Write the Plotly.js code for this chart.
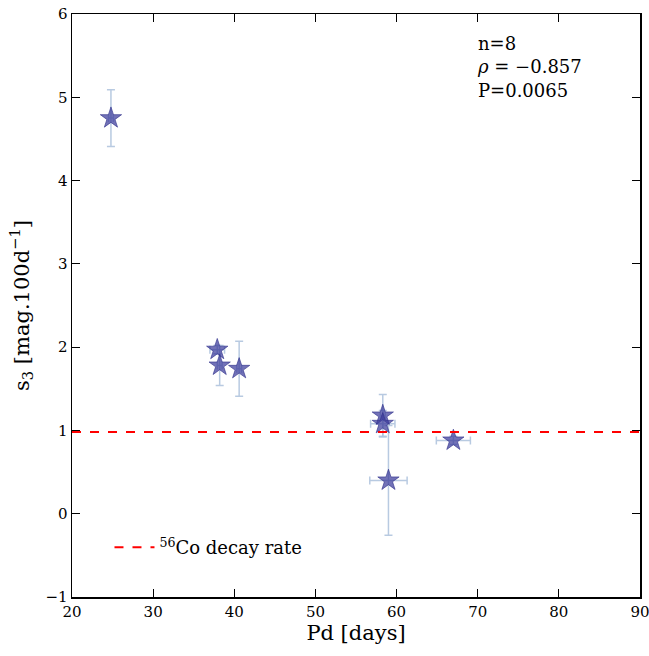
<!DOCTYPE html>
<html>
<head>
<meta charset="utf-8">
<script src="https://cdn.plot.ly/plotly-3.0.1.min.js"></script>
<style>html,body{margin:0;padding:0;background:#fff;}#chart{width:649px;height:656px;}</style>
</head>
<body>
<div id="chart"></div>
<script>
// Data
const pd = [24.8, 37.9, 38.2, 40.6, 58.3, 58.3, 59.0, 67.0];
const s3 = [4.75, 1.97, 1.78, 1.74, 1.18, 1.08, 0.40, 0.88];
const s3Err = [0.34, 0.05, 0.24, 0.33, 0.25, 0.16, 0.66, 0.05];
const pdErr = [0.3, 0.9, 0.3, 0.3, 0.3, 1.5, 2.3, 2.1];
const coDecayRate = 0.98;
const xRange = [20, 90];
const yRange = [-1, 6];
const statsText = ["n=8", "<i>ρ</i> = −0.857", "P=0.0065"];
const legendLabel = "<sup>56</sup>Co decay rate";

const serif = "DejaVu Serif, serif";

const traces = [
  {
    x: pd, y: s3, type: "scatter", mode: "markers", showlegend: false,
    marker: {symbol: "star", size: 16, color: "rgba(60,60,155,0.72)",
             line: {color: "rgba(50,50,140,0.8)", width: 0.8}},
    error_y: {type: "data", array: s3Err, visible: true, color: "rgba(176,196,222,0.9)", thickness: 1.5, width: 4},
    error_x: {type: "data", array: pdErr, visible: true, color: "rgba(176,196,222,0.9)", thickness: 1.5, width: 4}
  },
  {
    x: xRange, y: [coDecayRate, coDecayRate], type: "scatter", mode: "lines",
    name: legendLabel,
    line: {color: "red", width: 2, dash: "dash"}
  }
];

const axisCommon = {
  showgrid: false, zeroline: false, showline: true, linecolor: "black", linewidth: 1.5,
  mirror: "ticks", ticks: "inside", ticklen: 8, tickwidth: 1.2, tickcolor: "black",
  ticklabeloverflow: "allow",
  tickfont: {family: serif, size: 15, color: "black"}
};

const layout = {
  width: 649, height: 656,
  margin: {l: 72, r: 9, t: 14, b: 59},
  paper_bgcolor: "white", plot_bgcolor: "white",
  font: {family: serif, color: "black"},
  xaxis: Object.assign({}, axisCommon, {
    range: xRange, dtick: 10, tick0: 20,
    title: {text: "Pd [days]", font: {family: serif, size: 21, color: "black"}, standoff: 6}
  }),
  yaxis: Object.assign({}, axisCommon, {
    range: yRange, dtick: 1, tick0: 0,
    title: {text: "s<sub>3</sub> [mag.100d<sup>−1</sup>]", font: {family: serif, size: 21, color: "black"}, standoff: 10}
  }),
  legend: {x: 0.066, y: 0.085, xanchor: "left", yanchor: "middle", bgcolor: "rgba(0,0,0,0)",
           itemwidth: 40, font: {family: serif, size: 18, color: "black"}},
  annotations: [{
    xref: "paper", yref: "paper", x: 0.71, y: 0.97, xanchor: "left", yanchor: "top",
    align: "left", showarrow: false, text: statsText.join("<br>"),
    font: {family: serif, size: 18, color: "black"}
  }]
};

Plotly.newPlot("chart", traces, layout, {displayModeBar: false, staticPlot: true});
</script>
</body>
</html>
